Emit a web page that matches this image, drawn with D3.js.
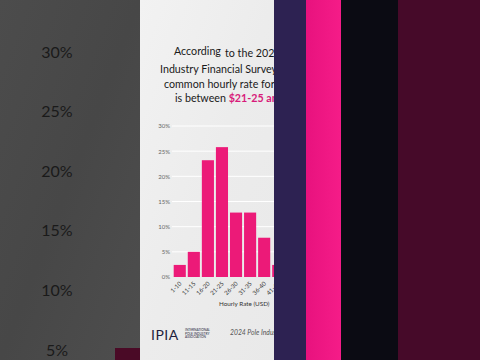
<!DOCTYPE html>
<html><head><meta charset="utf-8">
<script src="https://cdn.jsdelivr.net/npm/d3@7"></script>
<style>html,body{margin:0;padding:0;background:#4a4a4a;overflow:hidden}svg{display:block}</style>
</head><body>
<svg id="c" width="480" height="360"></svg>
<script>
const categories = ["1-10","11-15","16-20","21-25","26-30","31-35","36-40","41-45"];
const shares = [2.4, 5.0, 23.2, 25.8, 12.8, 12.8, 7.8, 2.4];
const yTicks = [0, 5, 10, 15, 20, 25, 30];
const bigTicks = [5, 10, 15, 20, 25, 30];
const titleLines = [
  [{t:"According",c:"#1a1a1a"}],
  [{t:"Industry Financial Survey, the most",c:"#1a1a1a"}],
  [{t:"common hourly rate for instructors",c:"#1a1a1a"}],
  [{t:"is between ",c:"#1a1a1a"},{t:"$21-25 and $26-30",c:"#d81b7a",b:true}]
];

const svg = d3.select("#c");
const defs = svg.append("defs");
const lg = defs.append("linearGradient").attr("id","lgray").attr("x1","0").attr("y1","0").attr("x2","1").attr("y2","1");
lg.append("stop").attr("offset","0").attr("stop-color","#4c4c4c");
lg.append("stop").attr("offset","0.5").attr("stop-color","#474747");
lg.append("stop").attr("offset","1").attr("stop-color","#4e4e4e");
const pg = defs.append("linearGradient").attr("id","panel").attr("x1","0").attr("y1","0").attr("x2","1").attr("y2","1");
pg.append("stop").attr("offset","0").attr("stop-color","#f2f2f2");
pg.append("stop").attr("offset","0.5").attr("stop-color","#ececec");
pg.append("stop").attr("offset","1").attr("stop-color","#e9e9e9");
const pk = defs.append("linearGradient").attr("id","pink").attr("x1","0").attr("x2","1");
pk.append("stop").attr("offset","0").attr("stop-color","#e8127e");
pk.append("stop").attr("offset","1").attr("stop-color","#f51c88");
defs.append("clipPath").attr("id","pclip").append("rect").attr("x",140).attr("y",0).attr("width",134).attr("height",360);

// background panels
svg.append("rect").attr("x",0).attr("y",0).attr("width",140).attr("height",360).attr("fill","url(#lgray)");
svg.append("rect").attr("x",115).attr("y",348).attr("width",25).attr("height",12).attr("fill","#4a0a26");
svg.append("rect").attr("x",140).attr("y",0).attr("width",134).attr("height",360).attr("fill","url(#panel)");
svg.append("rect").attr("x",274).attr("y",0).attr("width",32).attr("height",360).attr("fill","#2d2252");
svg.append("rect").attr("x",306).attr("y",0).attr("width",35).attr("height",360).attr("fill","url(#pink)");
svg.append("rect").attr("x",341).attr("y",0).attr("width",57).attr("height",360).attr("fill","#0b0b13");
svg.append("rect").attr("x",398).attr("y",0).attr("width",82).attr("height",360).attr("fill","#460a29");

// big blurred y labels on the left
const yBig = d3.scaleLinear().domain([5,30]).range([350,52]);
const bigAxis = svg.append("g").attr("transform","translate(72,0)")
  .call(d3.axisLeft(yBig).tickValues(bigTicks).tickFormat(d=>d+"%").tickSize(0).tickPadding(0));
bigAxis.select(".domain").remove();
bigAxis.selectAll("text").attr("fill","#1a1a1a").attr("font-family","Lato, sans-serif")
  .attr("font-size",16).attr("text-anchor","middle").attr("dx",-15);

const panel = svg.append("g").attr("clip-path","url(#pclip)");

// title
const baselines = [55,73,88,102];
const starts = [174,160,164,175];
titleLines.forEach((line,i)=>{
  const t = panel.append("text").attr("x",starts[i]).attr("y",baselines[i])
    .attr("font-family","Lato, sans-serif").attr("font-size",10.7);
  line.forEach(s=>t.append("tspan").text(s.t).attr("fill",s.c).attr("font-weight",s.b?"bold":"normal"));
});
panel.append("text").attr("x",225).attr("y",57).attr("font-family","Lato, sans-serif").attr("font-size",10.7)
  .attr("fill","#1a1a1a").text("to the 2024 Pole");

// chart
const x = d3.scaleBand().domain(categories).range([173,285]).paddingInner(0.14).paddingOuter(0.05);
const y = d3.scaleLinear().domain([0,30]).range([277,126]);

const grid = panel.append("g");
grid.selectAll("line").data(yTicks.slice(1)).join("line")
  .attr("x1",172).attr("x2",274).attr("y1",d=>y(d)).attr("y2",d=>y(d))
  .attr("stroke","#ffffff").attr("stroke-width",1);

const ya = panel.append("g").attr("transform","translate(170,0)")
  .call(d3.axisLeft(y).tickValues(yTicks).tickFormat(d=>d+"%").tickSize(0).tickPadding(0));
ya.select(".domain").remove();
ya.selectAll("text").attr("fill","#666").attr("font-family","Lato, sans-serif").attr("font-size",6);

panel.selectAll("rect.bar").data(shares).join("rect").attr("class","bar")
  .attr("x",(d,i)=>x(categories[i])).attr("width",x.bandwidth())
  .attr("y",d=>y(d)).attr("height",d=>y(0)-y(d)).attr("fill","#ec1a78");

const xa = panel.append("g").attr("transform","translate(0,279)")
  .call(d3.axisBottom(x).tickSize(0).tickPadding(0));
xa.select(".domain").remove();
xa.selectAll("text").attr("fill","#333").attr("font-family","Lato, sans-serif").attr("font-size",6)
  .attr("text-anchor","end").attr("dy","0.35em").attr("transform","rotate(-45) translate(-2,3)");

panel.append("text").attr("x",219).attr("y",306).attr("font-family","Lato, sans-serif").attr("font-size",6.3)
  .attr("fill","#333").text("Hourly Rate (USD)");

// footer
panel.append("text").attr("x",151).attr("y",340).attr("font-family","Lato, sans-serif").attr("font-size",14)
  .attr("fill","#1d1d3c").attr("letter-spacing",0.5).text("IPIA");
const small = ["INTERNATIONAL","POLE INDUSTRY","ASSOCIATION"];
small.forEach((s,i)=>panel.append("text").attr("x",185).attr("y",331+i*3.6)
  .attr("font-family","Lato, sans-serif").attr("font-size",3.2).attr("fill","#1d1d3c").text(s));
panel.append("text").attr("x",230).attr("y",335).attr("font-family","Lato, sans-serif").attr("font-size",6.8)
  .attr("font-style","italic").attr("fill","#555").text("2024 Pole Industry Financial Survey");
</script>
</body></html>
